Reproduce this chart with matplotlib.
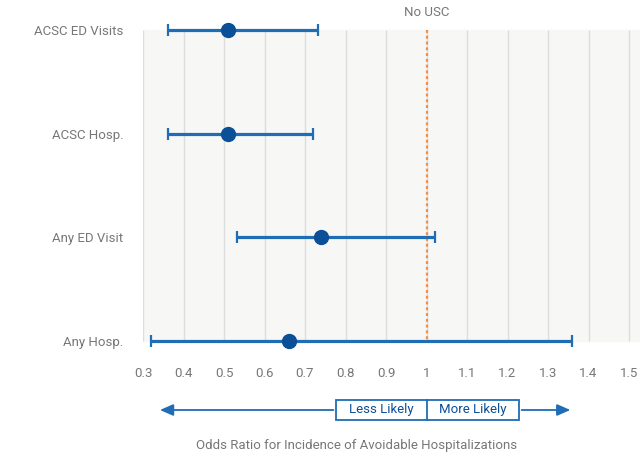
import numpy as np
import matplotlib
matplotlib.use("Agg")
import matplotlib.pyplot as plt
from matplotlib.patches import Rectangle

plt.rcParams['font.family'] = ['Roboto', 'DejaVu Sans']

# data
labels = ["ACSC ED Visits", "ACSC Hosp.", "Any ED Visit", "Any Hosp."]
odds = [0.51, 0.51, 0.74, 0.66]
ci_low = [0.362, 0.362, 0.532, 0.32]
ci_high = [0.732, 0.72, 1.021, 1.359]
ticks = [0.3, 0.4, 0.5, 0.6, 0.7, 0.8, 0.9, 1.0, 1.1, 1.2, 1.3, 1.4, 1.5]
tick_labels = ["0.3", "0.4", "0.5", "0.6", "0.7", "0.8", "0.9", "1", "1.1", "1.2", "1.3", "1.4", "1.5"]

blue = "#1f6db5"
dark = "#0b4f96"
grey = "#777777"

fig = plt.figure(figsize=(6.4, 4.54), dpi=100)
ax = fig.add_axes([143/640, 1 - 350/454, 497/640, 330/454])

y = np.arange(len(labels))
bg_top, bg_bot = 0.0, 3.0

ax.axhspan(bg_top, bg_bot, color="#f7f7f5", zorder=0)
ax.vlines(ticks, bg_top, bg_bot, color="#dddddd", lw=1, zorder=1)
ax.vlines([1.0], bg_top, bg_bot, color="#ef9048", lw=1.6, ls=(0, (1.3, 1.3)), zorder=2)
ax.text(1.0, -0.17, "No USC", ha="center", va="center", color=grey, fontsize=9.5)

xerr = [np.array(odds) - np.array(ci_low), np.array(ci_high) - np.array(odds)]
ax.errorbar(odds, y, xerr=xerr, fmt="none", ecolor=blue, elinewidth=2.3,
            capsize=4.5, capthick=1.6, zorder=3, clip_on=False)
ax.plot(odds, y, "o", color=dark, markersize=10, zorder=4, clip_on=False)

ax.set_xlim(0.3, 0.3 + 497/405)
ax.set_ylim(3 + 9/103.7, -10/103.7)
ax.set_xticks(ticks)
ax.set_xticklabels(tick_labels)
ax.set_yticks(y)
ax.set_yticklabels(labels)
ax.tick_params(axis="both", length=0, labelcolor=grey, labelsize=9.5)
ax.tick_params(axis="x", pad=12)
ax.tick_params(axis="y", pad=14)
for s in ax.spines.values():
    s.set_visible(False)

# direction guide below the axis
tr = ax.get_xaxis_transform()
ay = -60/330
bh = 20/330
ax.add_patch(Rectangle((0.777, ay - bh/2), 1.228 - 0.777, bh, transform=tr,
                       fill=False, ec=blue, lw=1.3, clip_on=False))
ax.plot([1.0, 1.0], [ay - bh/2, ay + bh/2], transform=tr, color=blue, lw=1.3, clip_on=False)
ax.text(0.888, ay, "Less Likely", transform=tr, ha="center", va="center", color=dark, fontsize=9.5)
ax.text(1.114, ay, "More Likely", transform=tr, ha="center", va="center", color=dark, fontsize=9.5)
ax.annotate("", xy=(0.335, ay), xytext=(0.777, ay), xycoords=tr, textcoords=tr,
            arrowprops=dict(arrowstyle="-|>,head_length=0.8,head_width=0.35", color=blue, lw=1.3))
ax.annotate("", xy=(1.362, ay), xytext=(1.228, ay), xycoords=tr, textcoords=tr,
            arrowprops=dict(arrowstyle="-|>,head_length=0.8,head_width=0.35", color=blue, lw=1.3))

fig.text(357/640, 1 - 445/454, "Odds Ratio for Incidence of Avoidable Hospitalizations",
         ha="center", va="center", color=grey, fontsize=9.5)

fig.savefig("out.png", dpi=100)
